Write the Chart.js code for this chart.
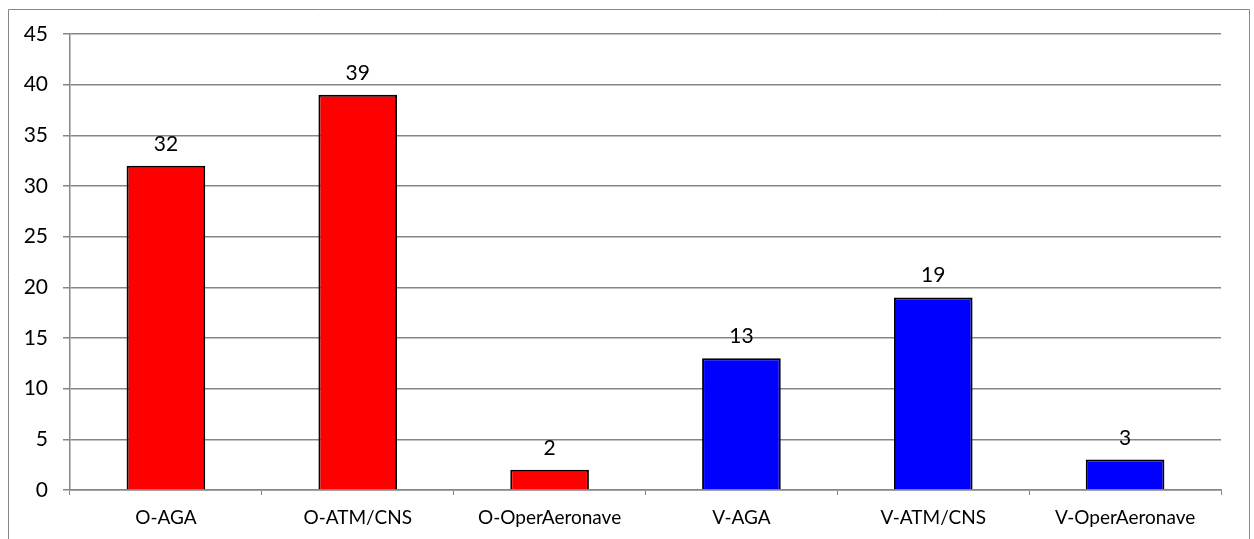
<!DOCTYPE html>
<html>
<head>
<meta charset="utf-8">
<script src="https://cdn.jsdelivr.net/npm/chart.js@4.4.1/dist/chart.umd.min.js"></script>
<style>
  html, body { margin: 0; padding: 0; background: #fff; }
  #wrap { position: relative; width: 1254px; height: 539px; }
</style>
</head>
<body>
<div id="wrap"><canvas id="bars"></canvas></div>
<script>
// values
const categories = ['O-AGA', 'O-ATM/CNS', 'O-OperAeronave', 'V-AGA', 'V-ATM/CNS', 'V-OperAeronave'];
const counts = [32, 39, 2, 13, 19, 3];
const barColors = ['#ff0000', '#ff0000', '#ff0000', '#0000ff', '#0000ff', '#0000ff'];
const yTicks = [0, 5, 10, 15, 20, 25, 30, 35, 40, 45];

const gridGray = '#868686';
const font = 'Lato, "Open Sans", sans-serif';

// value labels above each bar
const valueLabels = {
  id: 'valueLabels',
  afterDatasetsDraw(chart) {
    const ctx = chart.ctx;
    const meta = chart.getDatasetMeta(0);
    ctx.save();
    ctx.fillStyle = '#000';
    ctx.font = '21px ' + font;
    ctx.textAlign = 'center';
    ctx.textBaseline = 'alphabetic';
    meta.data.forEach((bar, i) => {
      ctx.fillText(String(counts[i]), bar.x, bar.y - 15);
    });
    ctx.restore();
  }
};

// outer chart frame (bottom edge falls outside the picture)
const frame = {
  id: 'frame',
  beforeDraw(chart) {
    const ctx = chart.ctx;
    ctx.save();
    ctx.strokeStyle = gridGray;
    ctx.lineWidth = 1;
    ctx.beginPath();
    ctx.moveTo(8.5, chart.height + 5);
    ctx.lineTo(8.5, 9.5);
    ctx.lineTo(1249.5, 9.5);
    ctx.lineTo(1249.5, chart.height + 5);
    ctx.stroke();
    ctx.restore();
  }
};

new Chart(document.getElementById('bars'), {
  type: 'bar',
  data: {
    labels: categories,
    datasets: [{
      data: counts,
      backgroundColor: barColors,
      borderColor: '#000',
      borderWidth: 2,
      borderSkipped: 'start',
      categoryPercentage: 1,
      barPercentage: 0.41
    }]
  },
  options: {
    responsive: true,
    maintainAspectRatio: false,
    animation: false,
    layout: { padding: { left: 0, top: 34, right: 33, bottom: 0 } },
    plugins: {
      legend: { display: false },
      tooltip: { enabled: false }
    },
    scales: {
      x: {
        afterFit(scale) { scale.height = 49; },
        border: { color: gridGray, width: 1.5 },
        grid: { drawOnChartArea: false, drawTicks: true, tickLength: 5, color: gridGray, offset: true },
        ticks: { color: '#000', font: { family: font, size: 19 }, padding: 11, maxRotation: 0 }
      },
      y: {
        min: 0,
        max: 45,
        afterFit(scale) { scale.width = 70; },
        afterBuildTicks(scale) { scale.ticks = yTicks.map(v => ({ value: v })); },
        border: { color: gridGray, width: 1.5 },
        grid: { color: gridGray, lineWidth: 1.5, tickLength: 7 },
        ticks: { color: '#000', font: { family: font, size: 21 }, padding: 15 }
      }
    }
  },
  plugins: [valueLabels, frame]
});
</script>
</body>
</html>
